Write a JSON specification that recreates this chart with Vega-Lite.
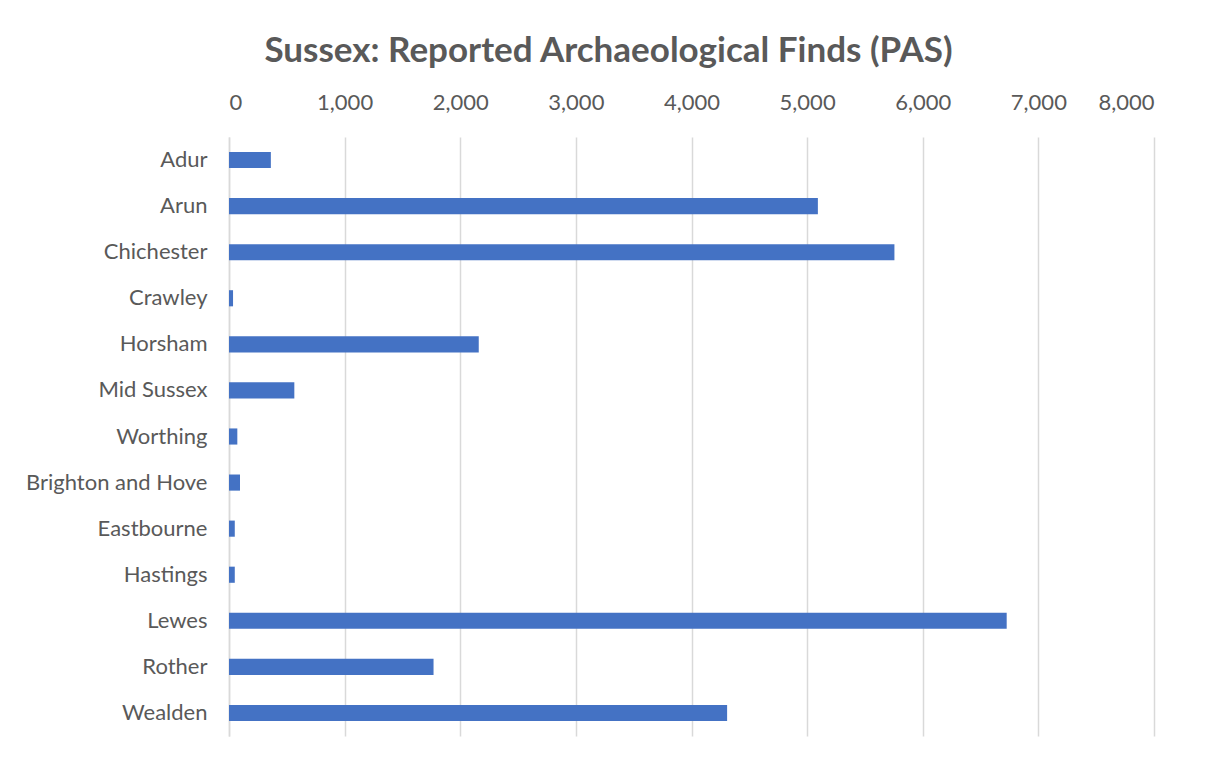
{
  "$schema": "https://vega.github.io/schema/vega-lite/v6.json",
  "width": 925,
  "height": 599,
  "autosize": {"type": "none"},
  "padding": {"left": 229, "top": 137, "right": 52, "bottom": 24},
  "background": "white",
  "title": {
    "text": "Sussex: Reported Archaeological Finds (PAS)",
    "font": "Lato",
    "fontSize": 35,
    "fontWeight": "bold",
    "color": "#595959",
    "anchor": "middle",
    "dx": -83,
    "offset": 22
  },
  "data": {
    "values": [
      {"district": "Adur", "finds": 362},
      {"district": "Arun", "finds": 5093},
      {"district": "Chichester", "finds": 5755},
      {"district": "Crawley", "finds": 35},
      {"district": "Horsham", "finds": 2160},
      {"district": "Mid Sussex", "finds": 565},
      {"district": "Worthing", "finds": 72},
      {"district": "Brighton and Hove", "finds": 95},
      {"district": "Eastbourne", "finds": 50},
      {"district": "Hastings", "finds": 50},
      {"district": "Lewes", "finds": 6726},
      {"district": "Rother", "finds": 1769},
      {"district": "Wealden", "finds": 4308}
    ]
  },
  "mark": {"type": "bar", "color": "#4472C4"},
  "encoding": {
    "y": {
      "field": "district",
      "type": "nominal",
      "sort": null,
      "scale": {"paddingInner": 0.65, "paddingOuter": 0.325},
      "axis": {
        "title": null,
        "ticks": false,
        "domainColor": "#d9d9d9",
        "domainWidth": 1.5,
        "labelFont": "Lato",
        "labelFontSize": 22,
        "labelColor": "#595959",
        "labelPadding": 22,
        "labelLimit": 400
      }
    },
    "x": {
      "field": "finds",
      "type": "quantitative",
      "scale": {"domain": [0, 8000], "nice": false},
      "axis": {
        "orient": "top",
        "title": null,
        "values": [0, 1000, 2000, 3000, 4000, 5000, 6000, 7000, 8000],
        "format": ",d",
        "ticks": false,
        "domain": false,
        "grid": true,
        "gridColor": "#d9d9d9",
        "gridWidth": 1.5,
        "labelFont": "Lato",
        "labelFontSize": 22,
        "labelColor": "#595959",
        "labelPadding": 23
      }
    }
  },
  "config": {
    "view": {"stroke": null}
  }
}
